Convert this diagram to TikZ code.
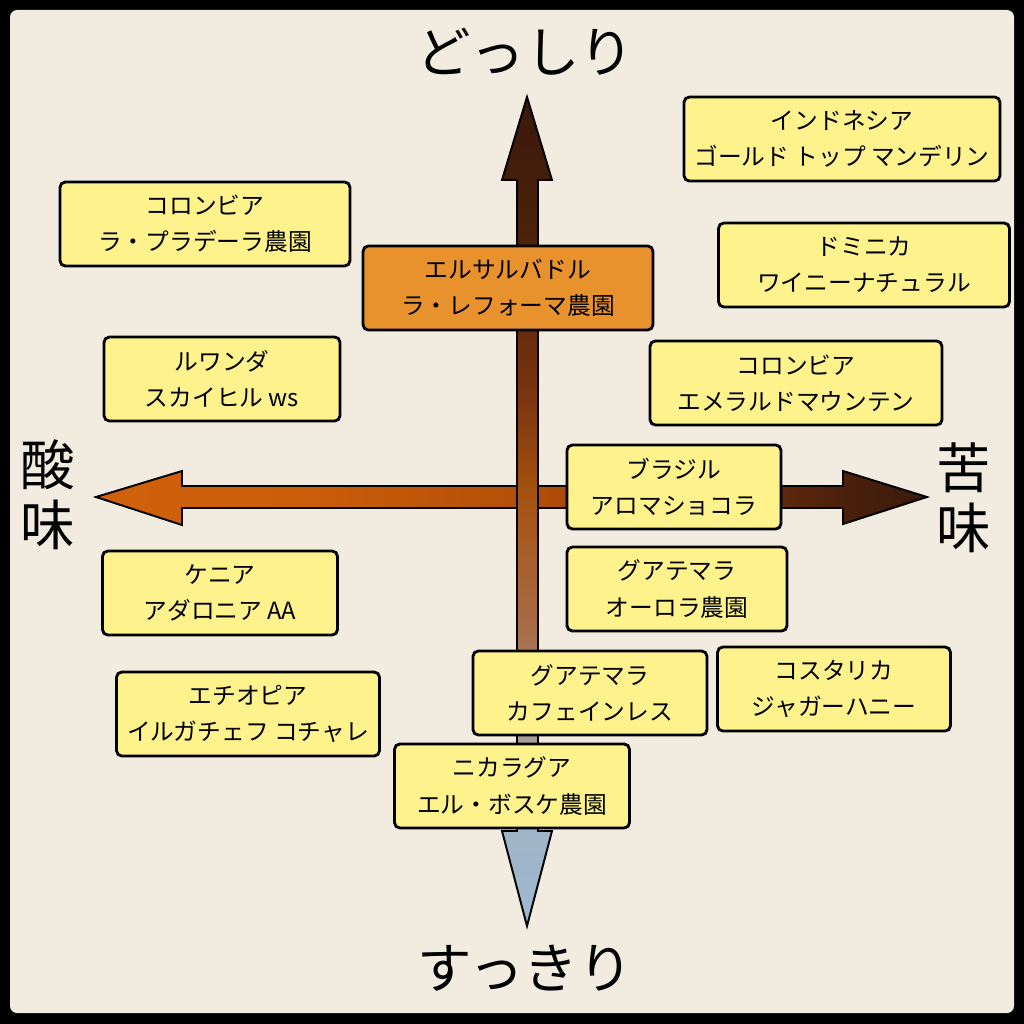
\documentclass[tikz,border=0pt]{standalone}
\usepackage{fontspec}
\setmainfont{Noto Sans CJK JP}
\usetikzlibrary{calc}

\definecolor{paper}{HTML}{F1EBE0}
\definecolor{tag}{HTML}{FDF28C}
\definecolor{hot}{HTML}{E8922E}
% colours along the two axes
\definecolor{sourend}{HTML}{D0600C}
\definecolor{sourmid}{HTML}{CC5E0A}
\definecolor{crossmid}{HTML}{B04E08}
\definecolor{bittermid}{HTML}{7A3208}
\definecolor{bitterdeep}{HTML}{4A200C}
\definecolor{bitterend}{HTML}{3A1A0C}
\definecolor{cleanend}{HTML}{9DB9D2}
\definecolor{cleanmid}{HTML}{9FB4C6}
\definecolor{greyish}{HTML}{A89A92}
\definecolor{tan}{HTML}{A86C48}
\definecolor{rust}{HTML}{A5520F}
\definecolor{heavymid}{HTML}{7A3410}
\definecolor{heavydeep}{HTML}{4E220C}
\definecolor{heavyend}{HTML}{3A180A}

\pgfdeclarehorizontalshading{sourbitter}{100bp}{color(0bp)=(sourend); color(25bp)=(sourend);
  color(37bp)=(sourmid); color(52bp)=(crossmid); color(61bp)=(bittermid);
  color(70bp)=(bitterdeep); color(75bp)=(bitterend); color(100bp)=(bitterend)}
\pgfdeclareverticalshading{cleanheavy}{100bp}{color(0bp)=(cleanend); color(25bp)=(cleanend);
  color(31bp)=(cleanmid); color(37bp)=(greyish); color(43bp)=(tan); color(51bp)=(rust);
  color(57bp)=(heavymid); color(66bp)=(heavydeep); color(75bp)=(heavyend); color(100bp)=(heavyend)}

\begin{document}
\begin{tikzpicture}[
    x=0.02cm,
    y=-0.02cm,
    box/.style={draw, line width=1.6pt, rounded corners=3pt, fill=tag, align=center, minimum height=1.68cm, inner sep=0pt, font=\fontsize{13.5}{20.5}\selectfont},
    hotbox/.style={box, fill=hot},
    axislabel/.style={align=center, inner sep=0pt, font=\fontsize{31}{34}\selectfont},
    arrowbody/.style={draw=black, line width=1.1pt, line join=miter}
]
\useasboundingbox (0,0) rectangle (1024,1024);
\fill[black] (0,0) rectangle (1024,1024);
\fill[paper, rounded corners=4pt] (10,10) rectangle (1014,1013);

% axes
\shadedraw[arrowbody, shading=sourbitter] (96,497) -- (182,471) -- (182,486) -- (843,486) -- (843,471)
  -- (927,497) -- (843,524) -- (843,508) -- (182,508) -- (182,525) -- cycle;
\shadedraw[arrowbody, shading=cleanheavy] (527,97) -- (552,180) -- (538,180) -- (538,831) -- (552,831)
  -- (527,926) -- (502,831) -- (517,831) -- (517,180) -- (502,180) -- cycle;

\node[axislabel] (heavy) at (525,52) {どっしり};
\node[axislabel] (clean) at (525,968) {すっきり};
\node[axislabel] (sour) at (48,495) {酸\\味};
\node[axislabel] (bitter) at (964,498) {苦\\味};

% beans
\node[box, minimum width=6.32cm] (indonesia) at (842,139) {インドネシア\\ゴールド トップ マンデリン};
\node[box, minimum width=5.80cm] (colombiaA) at (205,224) {コロンビア\\ラ・プラデーラ農園};
\node[box, minimum width=5.82cm] (dominica) at (864,265) {ドミニカ\\ワイニーナチュラル};
\node[hotbox, minimum width=5.80cm] (elsalvador) at (508,288) {エルサルバドル\\ラ・レフォーマ農園};
\node[box, minimum width=4.72cm] (rwanda) at (222,379) {ルワンダ\\スカイヒル ws};
\node[box, minimum width=5.84cm] (colombiaB) at (796,383) {コロンビア\\エメラルドマウンテン};
\node[box, minimum width=4.28cm] (brazil) at (674,487) {ブラジル\\アロマショコラ};
\node[box, minimum width=4.70cm] (kenya) at (220,593) {ケニア\\アダロニア AA};
\node[box, minimum width=4.40cm] (guatemalaA) at (677,589) {グアテマラ\\オーロラ農園};
\node[box, minimum width=4.66cm] (costarica) at (834,689) {コスタリカ\\ジャガーハニー};
\node[box, minimum width=4.68cm] (guatemalaB) at (590,693) {グアテマラ\\カフェインレス};
\node[box, minimum width=5.26cm] (ethiopia) at (248,714) {エチオピア\\イルガチェフ コチャレ};
\node[box, minimum width=4.70cm] (nicaragua) at (512,786) {ニカラグア\\エル・ボスケ農園};
\end{tikzpicture}
\end{document}
